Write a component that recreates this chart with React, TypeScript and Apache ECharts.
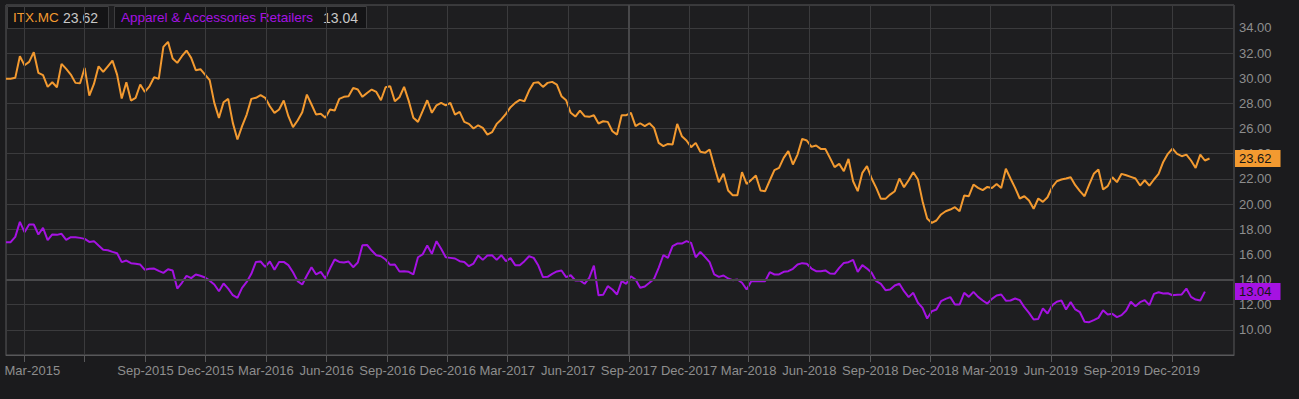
import React, { useEffect, useRef } from "react";
import * as echarts from "echarts";

// ---- data ----
const seriesNames = ["ITX.MC", "Apparel & Accessories Retailers"];
const firstWeek = { year: 2015, month: 1, day: 2 }; // weekly observations start (Feb 2, 2015)
const axisStart = { year: 2015, month: 1, day: 2 };
const axisEnd = { year: 2020, month: 2, day: 4 };

const itxValues = [
  29.95, 29.95, 30.03, 31.75, 31.03, 31.3, 32.07, 30.42, 30.24, 29.31,
  29.68, 29.28, 31.14, 30.74, 30.29, 29.63, 29.6, 30.82, 28.62, 29.55,
  30.95, 30.5, 30.95, 31.4, 30.29, 28.38, 29.68, 28.22, 28.44, 29.5,
  28.91, 29.36, 30.08, 29.95, 32.49, 32.89, 31.56, 31.22, 31.75, 32.2,
  31.62, 30.64, 30.72, 30.29, 29.85,
  28.04, 26.85, 28.09, 28.36, 26.45, 25.13, 26.19, 27.11, 28.36, 28.44,
  28.65, 28.44, 27.77, 27.25, 27.51, 28.23, 26.98, 26.11, 26.64, 27.3,
  28.7, 27.91, 27.11, 27.17, 26.85, 27.51, 27.43, 28.36, 28.52, 28.57,
  29.23, 29.1, 28.52, 28.83, 29.1, 28.91, 28.25, 29.28, 29.36, 28.17,
  28.49, 29.31, 28.2,
  26.85, 26.53, 27.38, 28.25, 27.25, 27.85, 28.04, 27.85, 28.04, 27.11,
  27.32, 26.53, 26.37, 26.0, 26.26, 26.05, 25.52, 25.71, 26.37, 26.72,
  27.17, 27.7, 28.04, 28.28, 28.17, 29.02, 29.63, 29.68, 29.31, 29.63,
  29.71, 29.5, 28.57, 28.25, 27.25, 26.95, 27.43, 26.98, 26.93, 27.06,
  26.4, 26.58, 26.53,
  25.79, 25.52, 27.06, 27.06, 27.25, 26.19, 26.42, 26.19, 26.42, 26.05,
  24.86, 24.6, 24.78, 24.73, 26.37, 25.39, 25.05, 24.52, 24.86, 24.15,
  24.07, 24.33, 23.01, 21.74, 22.4, 21.07, 20.7, 20.7, 22.53, 21.6,
  21.92, 22.26, 21.07, 21.02, 21.87, 22.69, 22.87, 23.67, 24.2, 23.14,
  23.93, 25.18, 25.05,
  24.54, 24.65, 24.38, 24.38, 23.67, 22.93, 23.19, 22.61, 23.59, 21.81,
  21.02, 22.48, 23.01, 22.03, 21.28, 20.41, 20.41, 20.75, 21.02, 22.03,
  21.34, 21.89, 22.53, 21.95, 20.23, 18.85, 18.5, 18.69, 19.17, 19.43,
  19.56, 19.75, 19.43, 20.68, 20.62, 21.55, 21.28, 21.1, 21.36, 21.28,
  21.6, 21.28, 22.8,
  22.03, 21.28, 20.44, 20.62, 20.28, 19.62, 20.44, 20.17, 20.54, 21.34,
  21.81, 21.95, 22.03, 22.13, 21.5, 21.02, 20.62, 21.55, 22.4, 22.74,
  21.15, 21.42, 22.13, 21.74, 22.4, 22.29, 22.16, 22.03, 21.47, 21.89,
  21.47, 21.95, 22.4, 23.35, 23.99, 24.41, 23.99, 23.8, 23.93, 23.46,
  22.87, 23.93, 23.46, 23.62,
];

const sectorValues = [
  16.97, 16.97, 17.39, 18.58, 17.76, 18.37, 18.37, 17.58, 18.11, 17.13,
  17.58, 17.55, 17.63, 17.15, 17.36, 17.36, 17.31, 17.23, 16.99, 17.05,
  16.7, 16.36, 16.33, 16.2, 16.09, 15.38, 15.51, 15.3, 15.25, 15.19,
  14.77, 14.85, 14.87, 14.69, 14.53, 14.82, 14.72, 13.28, 13.74, 14.29,
  14.11, 14.4, 14.3, 14.16, 13.91,
  13.6, 13.07, 13.68, 13.28, 12.75, 12.54, 13.34, 13.81, 14.45, 15.4,
  15.43, 15.01, 15.43, 14.77, 15.4, 15.4, 15.14, 14.58, 13.87, 13.6,
  14.32, 14.98, 14.4, 14.61, 14.08, 14.87, 15.59, 15.4, 15.35, 15.43,
  14.98, 15.35, 16.73, 16.75, 16.3, 15.93, 15.85, 15.59, 15.17, 15.19,
  14.64, 14.66, 14.61,
  14.4, 15.77, 15.99, 16.7, 16.04, 17.05, 16.44, 15.77, 15.72, 15.67,
  15.46, 15.4, 15.06, 15.27, 15.91, 15.56, 15.91, 15.93, 15.56, 15.93,
  15.46, 15.7, 15.14, 15.14, 15.46, 15.85, 15.72, 15.11, 14.19, 14.21,
  14.45, 14.64, 14.72, 14.19, 14.34, 13.92, 13.92, 13.66, 14.13, 15.11,
  12.75, 12.78, 13.47,
  13.21, 12.81, 13.87, 13.66, 14.26, 14.0, 13.34, 13.44, 13.74, 14.05,
  14.93, 15.93, 15.72, 16.65, 16.86, 16.86, 17.05, 16.91, 15.77, 16.2,
  15.8, 15.38, 14.4, 14.21, 14.32, 14.08, 13.95, 14.0, 13.74, 13.21,
  13.87, 13.87, 13.87, 13.87, 14.58, 14.4, 14.4, 14.61, 14.66, 14.85,
  15.19, 15.3, 15.25,
  14.87, 14.66, 14.66, 14.72, 14.48, 14.45, 14.93, 15.32, 15.38, 15.56,
  14.61, 15.14, 14.87, 14.53, 13.87, 13.66, 13.15, 13.21, 13.52, 13.66,
  13.07, 12.6, 12.94, 12.15, 11.75, 10.9, 11.48, 11.62, 12.28, 12.46,
  12.6, 12.01, 12.01, 12.94, 12.62, 13.02, 12.62, 12.33, 12.09, 12.46,
  12.73, 12.81, 12.32,
  12.33, 12.49, 12.36, 11.8, 11.35, 10.82, 10.87, 11.7, 11.3, 11.96,
  12.23, 12.33, 11.62, 12.2, 11.62, 11.4, 10.64, 10.61, 10.77, 10.95,
  11.56, 11.22, 11.27, 11.01, 11.17, 11.54, 12.23, 11.88, 12.2, 12.36,
  11.96, 12.86, 12.99, 12.89, 12.91, 12.75, 12.78, 12.81, 13.28, 12.62,
  12.41, 12.33, 13.04,
];

const tickLabels = [
  "Mar-2015", "Jun-2015", "Sep-2015", "Dec-2015", "Mar-2016", "Jun-2016",
  "Sep-2016", "Dec-2016", "Mar-2017", "Jun-2017", "Sep-2017", "Dec-2017",
  "Mar-2018", "Jun-2018", "Sep-2018", "Dec-2018", "Mar-2019", "Jun-2019",
  "Sep-2019", "Dec-2019",
];
const hiddenTickLabels = ["Jun-2015"];
const highlightDate = "Sep-2017";
const highlightLevel = 14;

const yMin = 8;
const yMax = 35.82;
const yStep = 2;

// ---- styles ----
const ORANGE = "#F39A30";
const PURPLE = "#A512E2";
const BG = "#1b1b1d";
const PLOT_BG = "#1e1e20";
const GRID = "#3b3b3d";
const BORDER = "#58585a";
const LABEL = "#8e8e8e";
const FONT = '"Liberation Sans", Arial, sans-serif';

const MONTHS = ["Jan", "Feb", "Mar", "Apr", "May", "Jun", "Jul", "Aug", "Sep", "Oct", "Nov", "Dec"];
const parseLabel = (s: string) => {
  const [m, y] = s.split("-");
  return new Date(Number(y), MONTHS.indexOf(m), 1).getTime();
};
const fmtDate = (v: number) => {
  const d = new Date(v);
  return MONTHS[d.getMonth()] + "-" + d.getFullYear();
};

export default function App() {
  const ref = useRef<HTMLDivElement>(null);

  useEffect(() => {
    if (!ref.current) return;
    const chart = echarts.init(ref.current, undefined, { renderer: "svg" });

    const weekDate = (i: number) =>
      new Date(firstWeek.year, firstWeek.month, firstWeek.day + 7 * i).getTime();
    const itxData = itxValues.map((v, i) => [weekDate(i), v]);
    const sectorData = sectorValues.map((v, i) => [weekDate(i), v]);
    const tickValues = tickLabels.map(parseLabel);
    const labelValues = tickLabels.filter((t) => !hiddenTickLabels.includes(t)).map(parseLabel);
    const firstLabel = labelValues[0];

    const itxLast = itxValues[itxValues.length - 1];
    const secLast = sectorValues[sectorValues.length - 1];

    const endLabel = (value: number, color: string) => ({
      silent: true,
      symbol: "none",
      animation: false,
      lineStyle: { color: "transparent", width: 0 },
      label: {
        show: true,
        position: "end",
        distance: 1,
        formatter: value.toFixed(2),
        backgroundColor: color,
        color: "#151515",
        fontFamily: FONT,
        fontSize: 13,
        lineHeight: 15,
        padding: [1, 9, 1, 4],
      },
      data: [{ yAxis: value }],
    });

    chart.setOption({
      animation: false,
      backgroundColor: BG,
      grid: {
        left: 6,
        right: 65,
        top: 5,
        bottom: 44,
        show: true,
        backgroundColor: PLOT_BG,
        borderColor: BORDER,
        borderWidth: 1,
        containLabel: false,
        outerBoundsMode: "none",
      },
      xAxis: {
        type: "value",
        min: new Date(axisStart.year, axisStart.month, axisStart.day).getTime(),
        max: new Date(axisEnd.year, axisEnd.month, axisEnd.day).getTime(),
        axisLine: { show: true, lineStyle: { color: BORDER } },
        axisTick: { show: true, length: 7, customValues: tickValues, lineStyle: { color: BORDER } },
        axisLabel: {
          customValues: labelValues,
          color: LABEL,
          fontFamily: FONT,
          fontSize: 13,
          margin: 9,
          hideOverlap: false,
          showMinLabel: true,
          showMaxLabel: true,
          formatter: (v: number) =>
            v === firstLabel ? "{first|" + fmtDate(v) + "}" : fmtDate(v),
          rich: {
            first: { color: LABEL, fontFamily: FONT, fontSize: 13, padding: [0, 0, 0, 17] },
          },
        },
        splitLine: { show: false },
      },
      yAxis: {
        type: "value",
        position: "right",
        min: yMin,
        max: yMax,
        interval: yStep,
        axisLine: { show: false },
        axisTick: { show: false },
        axisLabel: {
          color: LABEL,
          fontFamily: FONT,
          fontSize: 13,
          margin: 5,
          showMinLabel: false,
          showMaxLabel: false,
          formatter: (v: number) => v.toFixed(2),
        },
        splitLine: { show: true, lineStyle: { color: GRID, width: 1 } },
      },
      graphic: [
        {
          type: "rect",
          shape: { x: 7.5, y: 6.5, width: 101, height: 22 },
          style: { fill: "#141416", stroke: "#3d3d3f", lineWidth: 1 },
        },
        {
          type: "text",
          x: 13,
          y: 17.5,
          style: { text: seriesNames[0], fill: ORANGE, font: "13.5px " + FONT, verticalAlign: "middle" },
        },
        {
          type: "text",
          x: 63,
          y: 17.5,
          style: { text: itxLast.toFixed(2), fill: "#c8c8c8", font: "14px " + FONT, verticalAlign: "middle" },
        },
        {
          type: "rect",
          shape: { x: 114.5, y: 6.5, width: 252, height: 22 },
          style: { fill: "#141416", stroke: "#3d3d3f", lineWidth: 1 },
        },
        {
          type: "text",
          x: 121,
          y: 17.5,
          style: { text: seriesNames[1], fill: PURPLE, font: "13.5px " + FONT, verticalAlign: "middle" },
        },
        {
          type: "text",
          x: 323,
          y: 17.5,
          style: { text: secLast.toFixed(2), fill: "#c8c8c8", font: "14px " + FONT, verticalAlign: "middle" },
        },
      ],
      series: [
        {
          type: "line",
          data: [],
          z: 1,
          silent: true,
          markLine: {
            silent: true,
            symbol: "none",
            label: { show: false },
            lineStyle: { color: GRID, width: 1, type: "solid" },
            data: tickValues.map((t) => ({ xAxis: t })),
          },
        },
        {
          type: "line",
          data: [],
          z: 1,
          silent: true,
          markLine: {
            silent: true,
            symbol: "none",
            label: { show: false },
            lineStyle: { color: "#48484a", width: 2, type: "solid" },
            data: [{ xAxis: parseLabel(highlightDate) }, { yAxis: highlightLevel }],
          },
        },
        {
          name: seriesNames[0],
          type: "line",
          data: itxData,
          showSymbol: false,
          symbol: "none",
          z: 3,
          lineStyle: { color: ORANGE, width: 2 },
          itemStyle: { color: ORANGE },
          markLine: endLabel(itxLast, ORANGE),
        },
        {
          name: seriesNames[1],
          type: "line",
          data: sectorData,
          showSymbol: false,
          symbol: "none",
          z: 3,
          lineStyle: { color: PURPLE, width: 2 },
          itemStyle: { color: PURPLE },
          markLine: endLabel(secLast, PURPLE),
        },
      ],
    });

    return () => chart.dispose();
  }, []);

  return (
    <div
      ref={ref}
      style={{ position: "fixed", left: 0, top: 0, width: 1299, height: 399, background: BG }}
    />
  );
}
